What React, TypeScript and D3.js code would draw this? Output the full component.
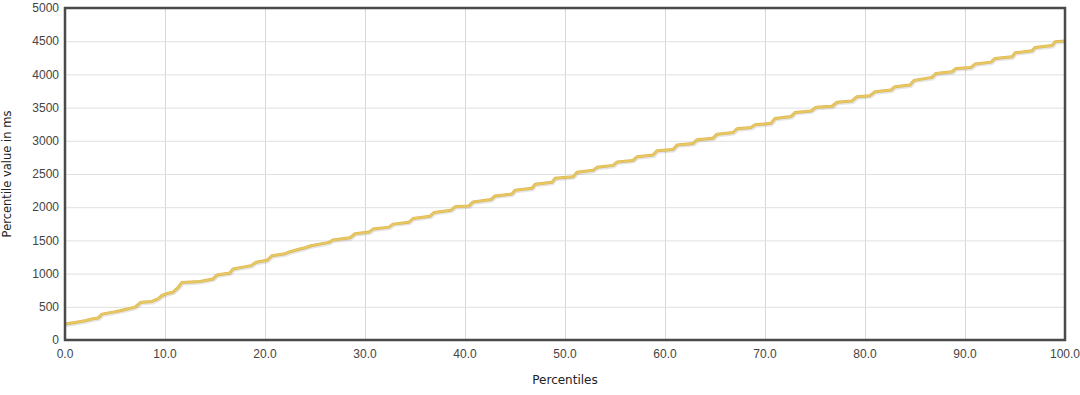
import React, { useEffect, useRef } from 'react';
import * as d3 from 'd3';

// percentile positions (x) and response times in ms (y)
const percentiles = [
  0, 1.0, 2.0, 2.8, 3.3, 3.7, 4.8, 5.5, 6.0, 7.0, 7.6, 8.7, 9.3, 9.7, 10.2, 10.8, 11.3, 11.7,
  13.5, 14.8, 15.2, 16.5, 16.8, 17.5, 18.6, 19.1, 20.2, 20.7, 22.0, 22.5, 23.2, 24.0, 24.6,
  26.4, 26.8, 28.5, 29.0, 30.4, 30.8, 32.4, 32.8, 34.4, 34.8, 36.5, 36.9, 38.6, 39.0, 40.4,
  40.8, 42.6, 43.0, 44.7, 45.0, 46.7, 47.0, 48.7, 49.0, 50.8, 51.2, 52.8, 53.2, 54.8, 55.2,
  56.8, 57.2, 58.8, 59.2, 60.8, 61.2, 62.8, 63.2, 64.8, 65.2, 66.8, 67.2, 68.6, 69.0, 70.6,
  71.0, 72.6, 73.0, 74.6, 75.1, 76.7, 77.2, 78.7, 79.2, 80.5, 81.0, 82.6, 83.0, 84.5, 84.9,
  86.7, 87.1, 88.7, 89.1, 90.6, 91.0, 92.6, 93.0, 94.7, 95.0, 96.7, 97.0, 98.7, 99.0, 100
];
const valuesMs = [
  240, 265, 290, 320, 330, 390, 420, 440, 460, 495, 570, 580, 620, 670, 700, 720, 790, 865,
  880, 920, 980, 1010, 1070, 1090, 1120, 1170, 1200, 1270, 1300, 1330, 1360, 1390, 1420,
  1470, 1505, 1540, 1600, 1625, 1670, 1700, 1745, 1775, 1830, 1865, 1920, 1955, 2005, 2020,
  2080, 2115, 2170, 2200, 2255, 2285, 2345, 2375, 2435, 2460, 2525, 2555, 2600, 2630, 2680,
  2705, 2760, 2785, 2850, 2870, 2935, 2960, 3015, 3040, 3100, 3125, 3180, 3200, 3240, 3265,
  3335, 3365, 3425, 3450, 3505, 3520, 3580, 3600, 3665, 3680, 3740, 3765, 3815, 3840, 3910,
  3955, 4015, 4040, 4090, 4105, 4155, 4185, 4240, 4265, 4325, 4355, 4405, 4435, 4490, 4505
];
const xTicks = [0, 10, 20, 30, 40, 50, 60, 70, 80, 90, 100];
const yTicks = [0, 500, 1000, 1500, 2000, 2500, 3000, 3500, 4000, 4500, 5000];

const App = () => {
  const ref = useRef<SVGSVGElement>(null);

  useEffect(() => {
    const W = 1080, H = 395;
    const margin = { top: 8, right: 15, bottom: 55, left: 65 };
    const width = W - margin.left - margin.right;
    const height = H - margin.top - margin.bottom;

    const svg = d3.select(ref.current);
    svg.selectAll('*').remove();

    const g = svg.append('g')
      .attr('transform', 'translate(' + margin.left + ',' + margin.top + ')');

    const x = d3.scaleLinear().domain([0, 100]).range([0, width]);
    const y = d3.scaleLinear().domain([0, 5000]).range([height, 0]);

    //grid
    g.selectAll('.vgrid').data(xTicks).enter().append('line')
      .attr('x1', d => x(d) + 0.5).attr('x2', d => x(d) + 0.5)
      .attr('y1', 0).attr('y2', height)
      .attr('stroke', '#d8d8d8').attr('stroke-width', 1);
    g.selectAll('.hgrid').data(yTicks).enter().append('line')
      .attr('x1', 0).attr('x2', width)
      .attr('y1', d => y(d) + 0.5).attr('y2', d => y(d) + 0.5)
      .attr('stroke', '#e0e0e0').attr('stroke-width', 1);

    //tick labels
    const tickFont = '"Liberation Sans", Arial, sans-serif';
    g.selectAll('.ylab').data(yTicks).enter().append('text')
      .attr('x', -6).attr('y', d => y(d)).attr('dy', '0.35em')
      .attr('text-anchor', 'end')
      .style('font-family', tickFont).style('font-size', '12px')
      .attr('fill', '#444')
      .text(d => d);
    g.selectAll('.xlab').data(xTicks).enter().append('text')
      .attr('x', d => x(d)).attr('y', height + 18)
      .attr('text-anchor', 'middle')
      .style('font-family', tickFont).style('font-size', '12px')
      .attr('fill', '#444')
      .text(d => d3.format('.1f')(d));

    //data line
    const pts: [number, number][] = percentiles.map((p, i) => [p, valuesMs[i]]);
    const line = d3.line<[number, number]>()
      .x(d => x(d[0]))
      .y(d => y(d[1]));
    g.append('path').datum(pts)
      .attr('d', line)
      .attr('fill', 'none')
      .attr('stroke', 'rgba(0,0,0,0.10)')
      .attr('stroke-width', 3)
      .attr('transform', 'translate(1,1.5)');
    g.append('path').datum(pts)
      .attr('d', line)
      .attr('fill', 'none')
      .attr('stroke', '#d9b652')
      .attr('stroke-width', 3)
      .attr('stroke-linejoin', 'round');
    g.append('path').datum(pts)
      .attr('d', line)
      .attr('fill', 'none')
      .attr('stroke', '#e9c862')
      .attr('stroke-width', 1.8)
      .attr('stroke-linejoin', 'round');

    //frame
    g.append('rect')
      .attr('x', 0).attr('y', 0)
      .attr('width', width).attr('height', height)
      .attr('fill', 'none')
      .attr('stroke', '#4a4a4a')
      .attr('stroke-width', 2.5);

    //axis titles
    const titleFont = '"DejaVu Sans", Verdana, sans-serif';
    svg.append('text')
      .attr('x', margin.left + width / 2).attr('y', 384)
      .attr('text-anchor', 'middle')
      .style('font-family', titleFont).style('font-size', '12px')
      .attr('fill', '#222')
      .text('Percentiles');
    svg.append('text')
      .attr('transform', 'translate(11,' + (margin.top + height / 2) + ') rotate(-90)')
      .attr('text-anchor', 'middle')
      .style('font-family', titleFont).style('font-size', '11.5px')
      .attr('fill', '#222')
      .text('Percentile value in ms');
  }, []);

  return (
    <svg ref={ref} width={1080} height={395}
      style={{ position: 'absolute', left: 0, top: 0, background: '#fff' }} />
  );
};

export default App;
